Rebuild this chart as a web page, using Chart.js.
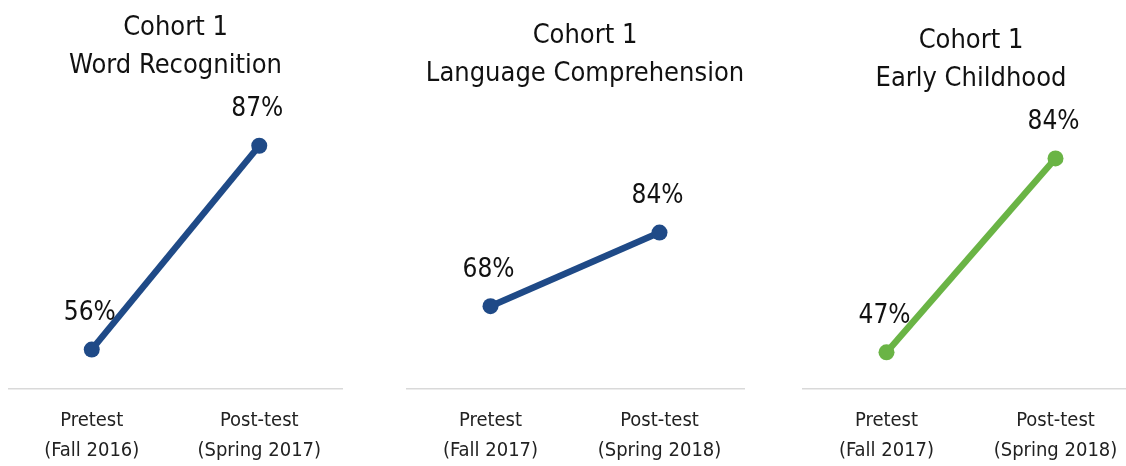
<!DOCTYPE html>
<html>
<head>
<meta charset="utf-8">
<script src="https://cdn.jsdelivr.net/npm/chart.js@4.4.1/dist/chart.umd.min.js"></script>
<style>
  html, body { margin: 0; padding: 0; background: #ffffff; overflow: hidden; }
  body { width: 1126px; height: 466px; position: relative; }
  .panel { position: absolute; top: 0; height: 466px; }
</style>
</head>
<body>
<div class="panel" id="p1" style="left:8px;width:335px;"><canvas id="c1"></canvas></div>
<div class="panel" id="p2" style="left:406px;width:358px;"><canvas id="c2"></canvas></div>
<div class="panel" id="p3" style="left:802px;width:338px;"><canvas id="c3"></canvas></div>
<script>
// ---- Data ----
const titles1 = ["Cohort 1", "Word Recognition"];
const titles2 = ["Cohort 1", "Language Comprehension"];
const titles3 = ["Cohort 1", "Early Childhood"];

const categories1 = [["Pretest", "(Fall 2016)"], ["Post-test", "(Spring 2017)"]];
const categories2 = [["Pretest", "(Fall 2017)"], ["Post-test", "(Spring 2018)"]];
const categories3 = [["Pretest", "(Fall 2017)"], ["Post-test", "(Spring 2018)"]];

const values1 = [56, 87];
const values2 = [68, 84];
const values3 = [47, 84];

const yRange1 = [50, 90];
const yRange2 = [50, 90];
const yRange3 = [40, 90];

// ---- Styling ----
const NARROW = "'Liberation Sans Narrow', 'Arial Narrow', 'DejaVu Sans Condensed', sans-serif";
const BLUE = '#1f4a87';
const GREEN = '#6ab445';

const valueLabels = {
  id: 'valueLabels',
  afterDatasetsDraw(chart) {
    const ctx = chart.ctx;
    ctx.save();
    ctx.font = "26px " + NARROW;
    ctx.fillStyle = '#111111';
    ctx.textAlign = 'center';
    ctx.textBaseline = 'middle';
    chart.data.datasets.forEach((ds, di) => {
      const meta = chart.getDatasetMeta(di);
      meta.data.forEach((pt, i) => {
        ctx.fillText(ds.data[i] + '%', pt.x - 2, pt.y - 36);
      });
    });
    ctx.restore();
  }
};

function makeChart(id, titleLines, cats, vals, yr, color, titlePad, rightAxisW) {
  return new Chart(document.getElementById(id), {
    type: 'line',
    data: {
      labels: cats,
      datasets: [{
        data: vals,
        borderColor: color,
        backgroundColor: color,
        borderWidth: 6.5,
        pointRadius: 8,
        pointHoverRadius: 8,
        pointBorderWidth: 0,
        tension: 0,
        clip: false
      }]
    },
    options: {
      responsive: true,
      maintainAspectRatio: false,
      animation: false,
      events: [],
      layout: { padding: 0, autoPadding: false },
      plugins: {
        legend: { display: false },
        tooltip: { enabled: false },
        title: {
          display: true,
          text: titleLines,
          color: '#111111',
          font: { family: NARROW, size: 27, weight: 'normal', lineHeight: 38 / 27 },
          padding: { top: titlePad[0], bottom: titlePad[1] }
        }
      },
      scales: {
        x: {
          offset: true,
          grid: { display: false, drawTicks: false },
          border: { display: true, color: '#d9d9d9', width: 1.5 },
          ticks: {
            color: '#222222',
            padding: 17,
            font: { family: NARROW, size: 20, lineHeight: 30 / 20 },
            maxRotation: 0,
            autoSkip: false
          },
          afterFit: (s) => { s.height = 77; }
        },
        y: {
          display: rightAxisW > 0,
          position: 'right',
          min: yr[0],
          max: yr[1],
          grid: { display: false, drawTicks: false },
          border: { display: false },
          ticks: { display: false },
          afterFit: (s) => { s.width = rightAxisW; }
        }
      }
    },
    plugins: [valueLabels]
  });
}

makeChart('c1', titles1, categories1, values1, yRange1, BLUE, [9, 41], 0);
makeChart('c2', titles2, categories2, values2, yRange2, BLUE, [17, 112], 20);
makeChart('c3', titles3, categories3, values3, yRange3, GREEN, [22, 29], 0);
</script>
</body>
</html>
